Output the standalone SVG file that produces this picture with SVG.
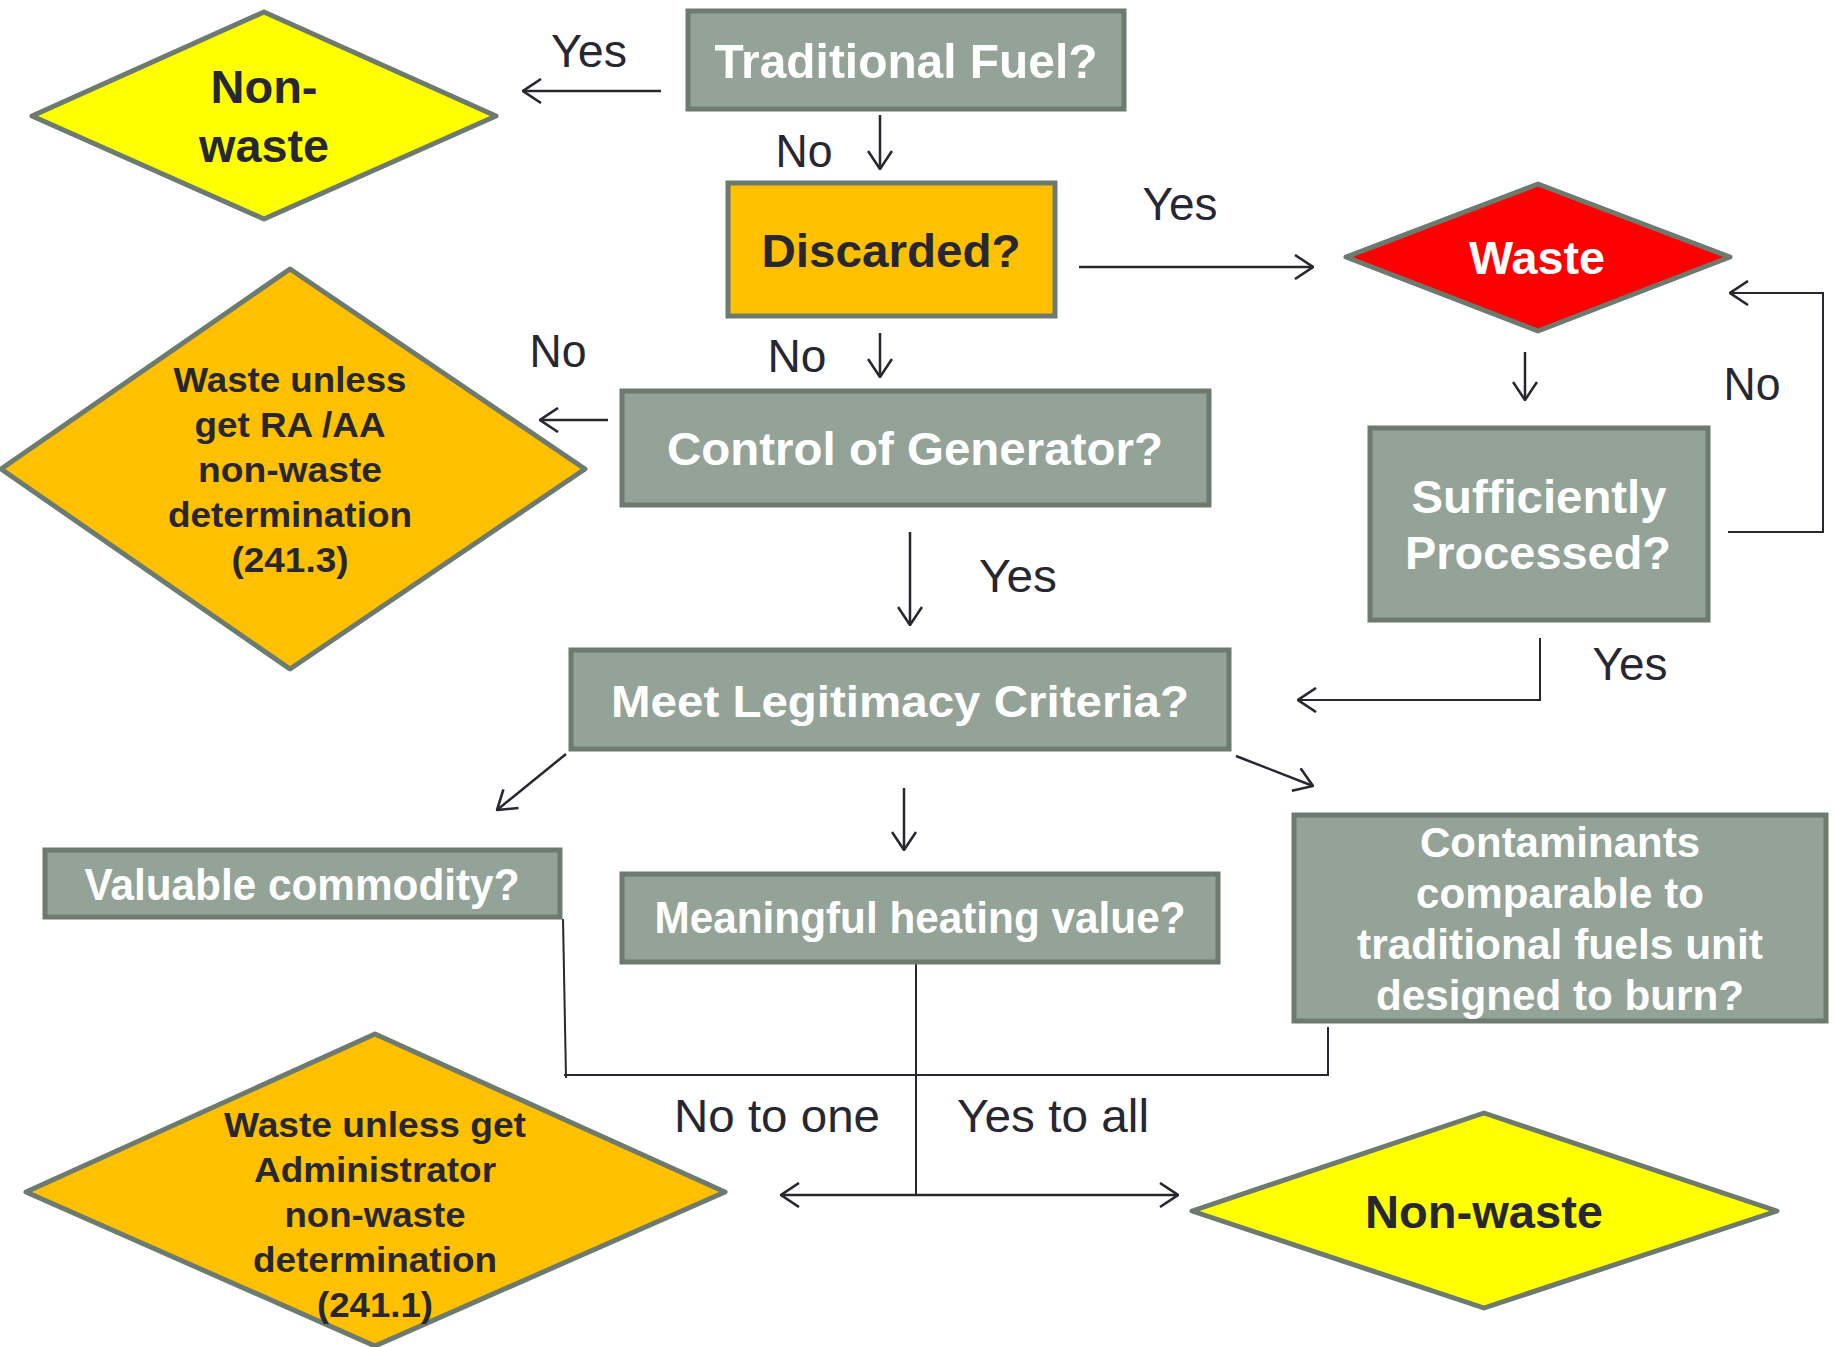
<svg xmlns="http://www.w3.org/2000/svg" width="1834" height="1347" viewBox="0 0 1834 1347">
<style>
.box{fill:#93a397;stroke:#6d7a6f;stroke-width:5}
.dia{stroke:#6d7a6f;stroke-width:5;stroke-linejoin:round}
.wt{font-family:"Liberation Sans",Arial,sans-serif;font-weight:bold;fill:#ffffff;text-anchor:middle}
.dt{font-family:"Liberation Sans",Arial,sans-serif;font-weight:bold;fill:#272732;text-anchor:middle}
.lb{font-family:"Liberation Sans",Arial,sans-serif;fill:#272732;text-anchor:middle;font-size:47px}
.c{fill:none;stroke:#272732;stroke-width:2.5}
.t{fill:none;stroke:#272732;stroke-width:2}
</style>
<defs>
<marker id="ah" viewBox="0 0 20 26" refX="19" refY="13" markerWidth="20" markerHeight="26" markerUnits="userSpaceOnUse" orient="auto-start-reverse">
<path d="M1,1 L19,13 L1,25" fill="none" stroke="#272732" stroke-width="2.6"/>
</marker>
</defs>

<g id="connectors">
<line class="c" x1="661" y1="91" x2="523" y2="91" marker-end="url(#ah)"/>
<line class="c" x1="880" y1="115" x2="880" y2="169" marker-end="url(#ah)"/>
<line class="c" x1="1079" y1="267" x2="1313" y2="267" marker-end="url(#ah)"/>
<line class="c" x1="880" y1="333" x2="880" y2="377" marker-end="url(#ah)"/>
<line class="c" x1="608" y1="420" x2="540" y2="420" marker-end="url(#ah)"/>
<line class="c" x1="1525" y1="352" x2="1525" y2="400" marker-end="url(#ah)"/>
<polyline class="t" points="1728,532 1823,532 1823,293 1730,293" marker-end="url(#ah)"/>
<polyline class="t" points="1540,638 1540,700 1298,700" marker-end="url(#ah)"/>
<line class="c" x1="910" y1="532" x2="910" y2="625" marker-end="url(#ah)"/>
<line class="c" x1="566" y1="754" x2="497" y2="810" marker-end="url(#ah)"/>
<line class="c" x1="904" y1="788" x2="904" y2="850" marker-end="url(#ah)"/>
<line class="c" x1="1236" y1="756" x2="1313" y2="786" marker-end="url(#ah)"/>
<line class="t" x1="563" y1="919" x2="566" y2="1078"/>
<line class="t" x1="564" y1="1075" x2="1329" y2="1075"/>
<line class="t" x1="1328" y1="1027" x2="1328" y2="1076"/>
<line class="t" x1="916" y1="962" x2="916" y2="1194"/>
<line class="c" x1="781" y1="1195" x2="1178" y2="1195" marker-start="url(#ah)" marker-end="url(#ah)"/>
</g>

<g id="nonwaste-top">
<polygon class="dia" fill="#ffff00" points="264,12 496,116 264,219 32,116"/>
<text class="dt" font-size="46" x="264" y="103" textLength="107" lengthAdjust="spacingAndGlyphs">Non-</text>
<text class="dt" font-size="46" x="264" y="162" textLength="130" lengthAdjust="spacingAndGlyphs">waste</text>
</g>

<g id="traditional-fuel">
<rect class="box" x="688" y="11" width="436" height="98"/>
<text class="wt" font-size="49" x="906" y="78" textLength="383" lengthAdjust="spacingAndGlyphs">Traditional Fuel?</text>
</g>

<g id="discarded">
<rect class="box" style="fill:#ffc000" x="728" y="183" width="327" height="133"/>
<text class="dt" font-size="46" x="891" y="267" textLength="259" lengthAdjust="spacingAndGlyphs">Discarded?</text>
</g>

<g id="waste">
<polygon class="dia" fill="#ff0000" points="1538,184 1730,257 1538,331 1346,257"/>
<text class="wt" font-size="46" x="1537" y="274" textLength="136" lengthAdjust="spacingAndGlyphs">Waste</text>
</g>

<g id="sufficiently-processed">
<rect class="box" x="1370" y="428" width="338" height="192"/>
<text class="wt" font-size="47" x="1539" y="513" textLength="255" lengthAdjust="spacingAndGlyphs">Sufficiently</text>
<text class="wt" font-size="47" x="1538" y="569" textLength="266" lengthAdjust="spacingAndGlyphs">Processed?</text>
</g>

<g id="waste-unless-ra-aa">
<polygon class="dia" fill="#ffc000" points="290,269 585,469 290,669 1,469"/>
<text class="dt" font-size="35" x="290" y="392" textLength="233" lengthAdjust="spacingAndGlyphs">Waste unless</text>
<text class="dt" font-size="35" x="290" y="437" textLength="191" lengthAdjust="spacingAndGlyphs">get RA /AA</text>
<text class="dt" font-size="35" x="290" y="482" textLength="184" lengthAdjust="spacingAndGlyphs">non-waste</text>
<text class="dt" font-size="35" x="290" y="527" textLength="244" lengthAdjust="spacingAndGlyphs">determination</text>
<text class="dt" font-size="35" x="290" y="572" textLength="117" lengthAdjust="spacingAndGlyphs">(241.3)</text>
</g>

<g id="control-of-generator">
<rect class="box" x="622" y="391" width="587" height="114"/>
<text class="wt" font-size="46" x="915" y="465" textLength="496" lengthAdjust="spacingAndGlyphs">Control of Generator?</text>
</g>

<g id="meet-legitimacy">
<rect class="box" x="571" y="650" width="658" height="99"/>
<text class="wt" font-size="45" x="900" y="717" textLength="578" lengthAdjust="spacingAndGlyphs">Meet Legitimacy Criteria?</text>
</g>

<g id="valuable-commodity">
<rect class="box" x="45" y="850" width="515" height="67"/>
<text class="wt" font-size="44" x="302" y="900" textLength="435" lengthAdjust="spacingAndGlyphs">Valuable commodity?</text>
</g>

<g id="meaningful-heating">
<rect class="box" x="622" y="874" width="596" height="88"/>
<text class="wt" font-size="44" x="920" y="933" textLength="531" lengthAdjust="spacingAndGlyphs">Meaningful heating value?</text>
</g>

<g id="contaminants">
<rect class="box" x="1294" y="815" width="532" height="206"/>
<text class="wt" font-size="43" x="1560" y="857" textLength="280" lengthAdjust="spacingAndGlyphs">Contaminants</text>
<text class="wt" font-size="43" x="1560" y="908" textLength="288" lengthAdjust="spacingAndGlyphs">comparable to</text>
<text class="wt" font-size="43" x="1560" y="959" textLength="406" lengthAdjust="spacingAndGlyphs">traditional fuels unit</text>
<text class="wt" font-size="43" x="1560" y="1010" textLength="368" lengthAdjust="spacingAndGlyphs">designed to burn?</text>
</g>

<g id="waste-unless-admin">
<polygon class="dia" fill="#ffc000" points="375,1034 725,1192 375,1346 26,1192"/>
<text class="dt" font-size="35" x="375" y="1137" textLength="302" lengthAdjust="spacingAndGlyphs">Waste unless get</text>
<text class="dt" font-size="35" x="375" y="1182" textLength="242" lengthAdjust="spacingAndGlyphs">Administrator</text>
<text class="dt" font-size="35" x="375" y="1227" textLength="181" lengthAdjust="spacingAndGlyphs">non-waste</text>
<text class="dt" font-size="35" x="375" y="1272" textLength="244" lengthAdjust="spacingAndGlyphs">determination</text>
<text class="dt" font-size="35" x="375" y="1317" textLength="116" lengthAdjust="spacingAndGlyphs">(241.1)</text>
</g>

<g id="nonwaste-bottom">
<polygon class="dia" fill="#ffff00" points="1484,1113 1777,1211 1484,1308 1192,1211"/>
<text class="dt" font-size="46" x="1484" y="1228" textLength="238" lengthAdjust="spacingAndGlyphs">Non-waste</text>
</g>

<g id="labels">
<text class="lb" x="589" y="67" textLength="76" lengthAdjust="spacingAndGlyphs">Yes</text>
<text class="lb" x="804" y="167" textLength="57" lengthAdjust="spacingAndGlyphs">No</text>
<text class="lb" x="1180" y="220" textLength="75" lengthAdjust="spacingAndGlyphs">Yes</text>
<text class="lb" x="558" y="367" textLength="57" lengthAdjust="spacingAndGlyphs">No</text>
<text class="lb" x="797" y="372" textLength="59" lengthAdjust="spacingAndGlyphs">No</text>
<text class="lb" x="1752" y="400" textLength="57" lengthAdjust="spacingAndGlyphs">No</text>
<text class="lb" x="1018" y="592" textLength="78" lengthAdjust="spacingAndGlyphs">Yes</text>
<text class="lb" x="1630" y="680" textLength="75" lengthAdjust="spacingAndGlyphs">Yes</text>
<text class="lb" x="777" y="1132" textLength="206" lengthAdjust="spacingAndGlyphs">No to one</text>
<text class="lb" x="1053" y="1132" textLength="192" lengthAdjust="spacingAndGlyphs">Yes to all</text>
</g>
</svg>
